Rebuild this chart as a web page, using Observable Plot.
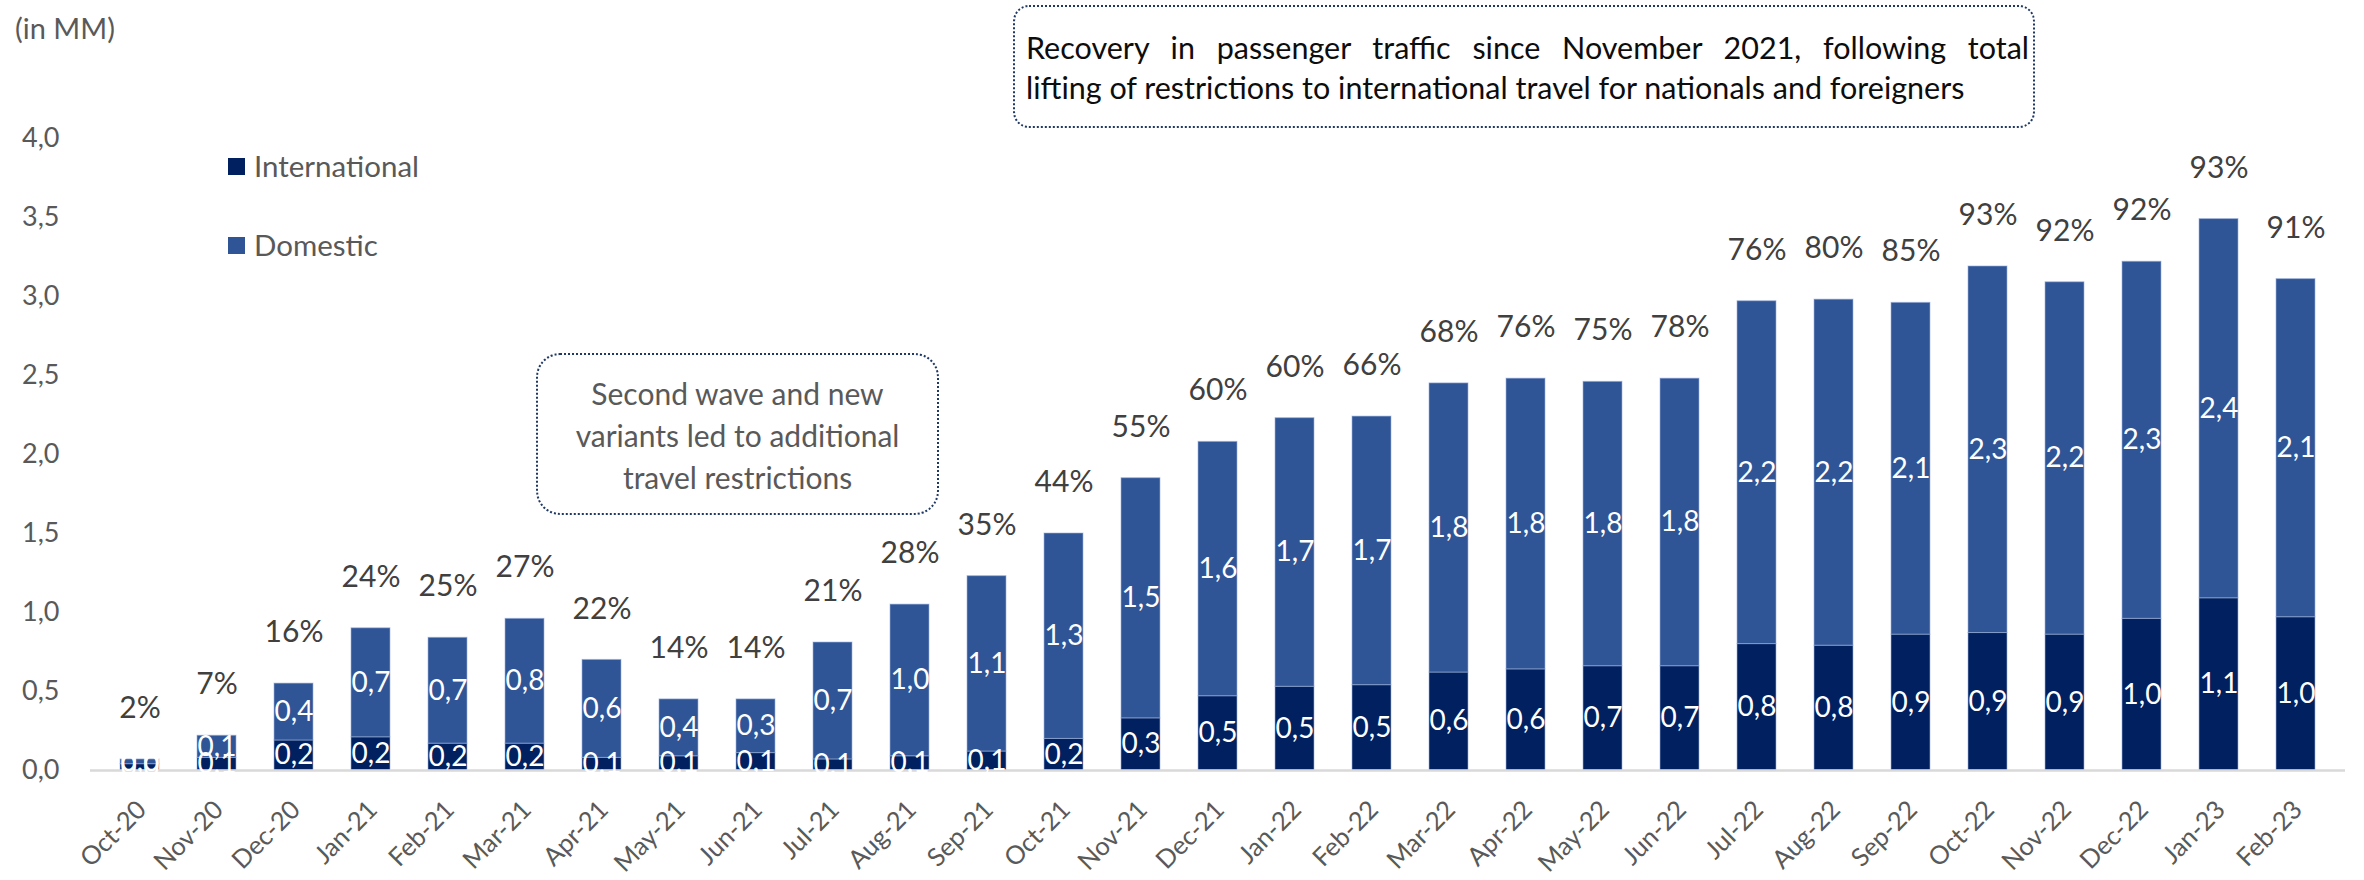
<!DOCTYPE html>
<html>
<head>
<meta charset="utf-8">
<script src="https://cdn.jsdelivr.net/npm/d3@7"></script>
<script src="https://cdn.jsdelivr.net/npm/@observablehq/plot@0.6"></script>
<style>
  html, body { margin: 0; padding: 0; background: #fff; }
  #wrap { position: relative; width: 2364px; height: 880px; font-family: Lato, "Open Sans", sans-serif; overflow: hidden; }
  #chart { position: absolute; left: 0; top: 0; }
  .note { position: absolute; box-sizing: border-box; }
  #unit { left: 15px; top: 10px; font-size: 29px; color: #595959; line-height: 36px; }
  #boxTop { left: 1013px; top: 5px; width: 1022px; height: 123px; border: 2px dotted #1F3864; border-radius: 16px;
            padding: 20px 4px 0 11px; font-size: 30.5px; line-height: 40px; color: #0D0D0D; }
  #boxTop .l1 { text-align: justify; text-align-last: justify; white-space: nowrap; }
  #boxTop .l2 { text-align: left; white-space: nowrap; }
  #boxLeft { left: 536px; top: 353px; width: 403px; height: 162px; border: 2px dotted #1F3864; border-radius: 24px;
             padding-top: 17px; font-size: 30px; line-height: 42px; color: #595959; text-align: center; white-space: nowrap; }
  .leg { position: absolute; left: 228px; font-size: 29.5px; color: #595959; line-height: 36px; display: flex; align-items: center; }
  .leg span.sw { display: inline-block; width: 17px; height: 17px; margin-right: 9px; }
</style>
</head>
<body>
<div id="wrap">
  <div id="chart"></div>
  <div class="note" id="unit">(in MM)</div>
  <div class="note" id="boxTop">
    <div class="l1">Recovery in passenger traffic since November 2021, following total</div>
    <div class="l2">lifting of restrictions to international travel for nationals and foreigners</div>
  </div>
  <div class="note" id="boxLeft">Second wave and new<br>variants led to additional<br>travel restrictions</div>
  <div class="leg" id="legIntl" style="top:148px"><span class="sw" style="background:#002060"></span>International</div>
  <div class="leg" id="legDom" style="top:227px"><span class="sw" style="background:#2F5597"></span>Domestic</div>
</div>
<script>
const months = ["Oct-20","Nov-20","Dec-20","Jan-21","Feb-21","Mar-21","Apr-21","May-21","Jun-21","Jul-21","Aug-21","Sep-21","Oct-21","Nov-21","Dec-21","Jan-22","Feb-22","Mar-22","Apr-22","May-22","Jun-22","Jul-22","Aug-22","Sep-22","Oct-22","Nov-22","Dec-22","Jan-23","Feb-23"];
const international = [0.04,0.08,0.19,0.21,0.17,0.17,0.08,0.09,0.11,0.07,0.09,0.12,0.20,0.33,0.47,0.53,0.54,0.62,0.64,0.66,0.66,0.80,0.79,0.86,0.87,0.86,0.96,1.09,0.97];
const domestic = [0.03,0.14,0.36,0.69,0.67,0.79,0.62,0.36,0.34,0.74,0.96,1.11,1.30,1.52,1.61,1.70,1.70,1.83,1.84,1.80,1.82,2.17,2.19,2.10,2.32,2.23,2.26,2.40,2.14];
const recoveryPct = [2,7,16,24,25,27,22,14,14,21,28,35,44,55,60,60,66,68,76,75,78,76,80,85,93,92,92,93,91];
const series = ["International","Domestic"];
const seriesColors = ["#002060","#2F5597"];
const yTicks = [0,0.5,1.0,1.5,2.0,2.5,3.0,3.5,4.0];

const fmt = v => v.toFixed(1).replace(".", ",");

const rows = [];
months.forEach((m, i) => rows.push({month: m, type: "International", value: international[i]}));
months.forEach((m, i) => rows.push({month: m, type: "Domestic", value: domestic[i]}));
const totals = months.map((m, i) => ({month: m, total: international[i] + domestic[i], pct: recoveryPct[i]}));

const chart = Plot.plot({
  width: 2364,
  height: 880,
  marginLeft: 90,
  marginRight: 19,
  marginTop: 138,
  marginBottom: 110,
  style: {fontFamily: "Lato, 'Open Sans', sans-serif", fontSize: "25px", color: "#595959", background: "white"},
  x: {type: "band", domain: months, paddingInner: 0.5, paddingOuter: 0.24, label: null},
  y: {domain: [0, 4], label: null},
  color: {domain: series, range: seriesColors},
  marks: [
    Plot.barY(rows, {x: "month", y: "value", fill: "type", z: "type", stroke: "#9DB3DA", strokeWidth: 1, strokeOpacity: 0.6}),
    Plot.ruleY([0], {stroke: "#D9D9D9", strokeWidth: 2.5}),
    Plot.text(rows, Plot.stackY({x: "month", y: "value", z: "type", text: d => fmt(d.value), fill: "white", fontSize: 28})),
    Plot.text(totals, {x: "month", y: "total", text: d => d.pct + "%", dy: -51, fill: "#404040", fontSize: 30}),
    Plot.axisY({ticks: yTicks, tickFormat: fmt, tickSize: 0, tickPadding: 31, fontSize: 27, fill: "#595959"}),
    Plot.axisX({tickRotate: -45, tickSize: 0, tickPadding: 28, dx: -5, textAnchor: "end", lineAnchor: "top", fontSize: 25.5, fill: "#595959"})
  ]
});
document.getElementById("chart").appendChild(chart);
</script>
</body>
</html>
